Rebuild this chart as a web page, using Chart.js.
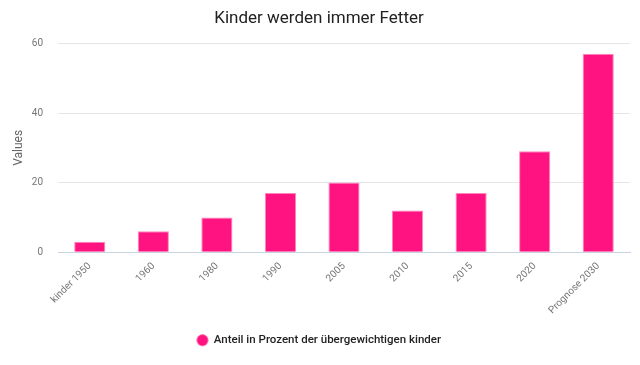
<!DOCTYPE html>
<html>
<head>
<meta charset="utf-8">
<script src="https://cdn.jsdelivr.net/npm/chart.js@4"></script>
<style>
  html, body { margin: 0; padding: 0; background: #fff; }
  #wrap { width: 640px; height: 365px; }
</style>
</head>
<body>
<div id="wrap"><canvas id="chart"></canvas></div>
<script>
const categories = ["kinder 1950", "1960", "1980", "1990", "2005", "2010", "2015", "2020", "Prognose 2030"];
const shares = [3, 6, 10, 17, 20, 12, 17, 29, 57];
const yTicks = [0, 20, 40, 60];

const pink = "#ff1380";

new Chart(document.getElementById("chart"), {
    type: "bar",
    data: {
        labels: categories,
        datasets: [{
            label: "Anteil in Prozent der übergewichtigen kinder",
            data: shares,
            backgroundColor: pink,
            borderColor: "rgba(255, 120, 180, 0.9)",
            borderWidth: 1,
            barPercentage: 0.49,
            categoryPercentage: 1
        }]
    },
    options: {
        responsive: true,
        maintainAspectRatio: false,
        animation: false,
        layout: { padding: { left: 8, right: 10, top: 7, bottom: 9 } },
        plugins: {
            title: {
                display: true,
                text: "Kinder werden immer Fetter",
                color: "#212121",
                font: { family: "Roboto", size: 17, weight: "normal" },
                padding: { top: 2, bottom: 14 }
            },
            legend: {
                position: "bottom",
                labels: {
                    usePointStyle: true,
                    pointStyle: "circle",
                    boxWidth: 11,
                    boxHeight: 8,
                    color: "#222",
                    font: { family: "Roboto", size: 11.5, weight: "500" },
                    padding: 10
                }
            },
            tooltip: { enabled: false }
        },
        scales: {
            x: {
                grid: { display: false, drawTicks: false },
                border: { color: "#c9d3e0" },
                ticks: {
                    color: "#757575",
                    font: { family: "Roboto", size: 10 },
                    maxRotation: 45,
                    minRotation: 45,
                    padding: 8
                }
            },
            y: {
                min: 0,
                max: 60,
                afterBuildTicks: axis => { axis.ticks = yTicks.map(v => ({ value: v })); },
                afterFit: axis => { axis.width = 50; },
                grid: { color: "#e6e6e6", drawTicks: false },
                border: { display: false },
                ticks: {
                    color: "#757575",
                    font: { family: "Roboto", size: 10 },
                    padding: 15
                },
                title: {
                    display: true,
                    text: "Values",
                    color: "#666",
                    font: { family: "Roboto", size: 12 },
                    padding: { top: 4, bottom: 4 }
                }
            }
        }
    }
});
</script>
</body>
</html>
